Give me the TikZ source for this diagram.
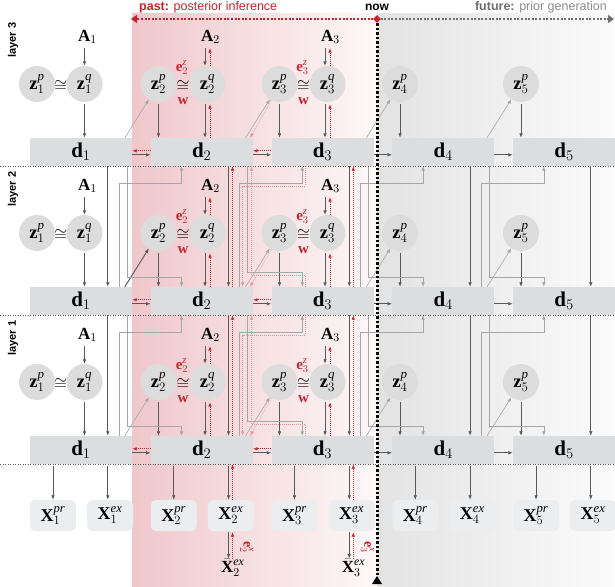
\RequirePackage{fix-cm}
\documentclass[tikz,border=0pt]{standalone}
\usepackage{fontspec}
\setmainfont{Liberation Serif}
\newfontfamily\labfont{Liberation Sans}
\usetikzlibrary{arrows.meta,calc,shapes.geometric}
\definecolor{dgrey}{HTML}{595959}
\definecolor{lgrey}{HTML}{A6A6A6}
\definecolor{boxgrey}{HTML}{DCDDDF}
\definecolor{circgrey}{HTML}{DCDCDC}
\definecolor{xgrey}{HTML}{ECEDEF}
\definecolor{myred}{HTML}{C4262E}
\definecolor{pinkline}{HTML}{E596A0}
\definecolor{pinkL}{HTML}{EFC7CB}
\definecolor{pinkR}{HTML}{FEF8F8}
\definecolor{greyL}{HTML}{E3E3E3}
\definecolor{greyR}{HTML}{FBFBFB}
\definecolor{futgrey}{HTML}{707070}
\tikzset{
 dbox/.style={fill=boxgrey, minimum width=102pt, minimum height=28pt, inner sep=0pt, font=\fontsize{21}{21}\selectfont},
 zc/.style={circle, fill=circgrey, minimum size=36pt, inner sep=0pt, font=\fontsize{18.5}{18.5}\selectfont},
 xbox/.style={fill=xgrey, rounded corners=5pt, minimum width=46pt, minimum height=31pt, inner sep=0pt, font=\fontsize{18}{18}\selectfont},
 alab/.style={inner sep=1pt, font=\fontsize{17}{17}\selectfont},
 cg/.style={inner sep=0pt, font=\fontsize{16.5}{16.5}\selectfont},
 elab/.style={inner sep=0pt, text=myred, font=\fontsize{15}{15}\selectfont},
 laylab/.style={rotate=90, inner sep=0pt, font=\labfont\bfseries\fontsize{11}{11}\selectfont},
 tip/.style={-{Latex[length=4.5pt,width=3.6pt]}},
 darr/.style={tip, draw=dgrey, line width=0.8pt},
 larr/.style={tip, draw=lgrey, line width=0.6pt},
 rarr/.style={tip, draw=myred, line width=0.8pt, dash pattern=on 1pt off 1pt},
 parr/.style={tip, draw=pinkline, line width=0.6pt, dash pattern=on 1pt off 1pt},
 sepline/.style={draw=black!65, line width=0.6pt, dash pattern=on 1pt off 1.5pt},
}
\begin{document}
\begin{tikzpicture}[x=1pt,y=-1pt]
\useasboundingbox (0,0) rectangle (615,586);
\fill[white] (0,0) rectangle (615,586);
\shade[left color=pinkL,right color=pinkR] (132,14) rectangle (377,586);
\shade[left color=greyL,right color=greyR] (377,14) rectangle (615,586);

% ---------- layers ----------
\foreach \Lay/\Off in {3/0,2/149,1/298}{
  \node[laylab] (lay\Lay) at (13,40+\Off) {layer \Lay};
  \foreach \ti/\lx in {1/30,2/150.75,3/271.5,4/392.25,5/513}
    \node[dbox] (d\Lay\ti) at (\lx+51,152+\Off) {$\mathbf{d}_{\ti}$};
  \foreach \ti/\xx in {1/37,2/158.5,3/279.5,4/400,5/521}
    \node[zc] (zp\Lay\ti) at (\xx,84+\Off) {$\mathbf{z}^{\mathit{p}}_{\ti}$};
  \foreach \ti/\xx in {1/84.5,2/207.5,3/327.5}{
    \node[zc] (zq\Lay\ti) at (\xx,84+\Off) {$\mathbf{z}^{\mathit{q}}_{\ti}$};
    \node[alab] (A\Lay\ti) at (\xx+3,37+\Off) {$\mathbf{A}_{\ti}$};
    \node[cg] (cg\Lay\ti) at ($(zp\Lay\ti)!0.5!(zq\Lay\ti)+(0,2)$) {$\cong$};
  }
  \foreach \ti in {2,3}{
    \node[elab] (ez\Lay\ti) at ($(cg\Lay\ti)+(-1,-18)$) {$\mathbf{e}^{\mathit{z}}_{\ti}$};
    \node[elab] (w\Lay\ti) at ($(cg\Lay\ti)+(0,15)$) {$\mathbf{w}$};
  }
  % A -> zq, zq -> d
  \draw[darr, shorten <=3pt] (zq\Lay1 |- A\Lay1.south) -- (zq\Lay1.north);
  \draw[darr, shorten <=2pt] (zq\Lay1.south) -- (zq\Lay1 |- d\Lay1.north);
  \foreach \ti in {2,3}{
    \coordinate (qa\Lay\ti) at ($(zq\Lay\ti)+(-2.5,0)$);
    \coordinate (qb\Lay\ti) at ($(zq\Lay\ti)+(2.5,0)$);
    \draw[darr, shorten <=3pt] (qa\Lay\ti |- A\Lay\ti.south) -- (qa\Lay\ti |- zq\Lay\ti.north);
    \draw[rarr, shorten >=3pt] (qb\Lay\ti |- zq\Lay\ti.north) -- (qb\Lay\ti |- A\Lay\ti.south);
    \draw[darr, shorten <=2pt] (qa\Lay\ti |- zq\Lay\ti.south) -- (qa\Lay\ti |- d\Lay\ti.north);
    \draw[rarr, shorten >=2pt] (qb\Lay\ti |- d\Lay\ti.north) -- (qb\Lay\ti |- zq\Lay\ti.south);
  }
  \foreach \ti in {2,...,5}
    \draw[darr, shorten <=2pt] (zp\Lay\ti.south) -- (zp\Lay\ti |- d\Lay\ti.north);
  % d -> next zp
  \foreach \ti/\tj in {1/2,2/3,3/4,4/5}{
    \coordinate (dg\Lay\ti) at ($(d\Lay\ti.north west)+(95,0)$);
    \draw[larr] (dg\Lay\ti) -- (zp\Lay\tj);
  }
  \draw[parr] (zp\Lay3.243) -- ($(d\Lay2.north west)+(99.5,0)$);
  % d -> d
  \foreach \ti/\tj in {1/2,2/3,3/4,4/5}
    \draw[darr] ($(d\Lay\ti.north east)+(0,17)$) -- ($(d\Lay\tj.north west)+(0,17)$);
  \foreach \ti/\tj in {1/2,2/3}
    \draw[rarr] ($(d\Lay\tj.north west)+(0,13)$) -- ($(d\Lay\ti.north east)+(0,13)$);
}
\draw[darr] (dg21) -- (zp22);

% ---------- between layers ----------
\foreach \Up/\Lo in {3/2,2/1}{
  \foreach \ti in {1,...,5}
    \draw[darr] ($(d\Up\ti.south west)+(78,0)$) -- ($(d\Lo\ti.north west)+(78,0)$);
  \foreach \ti in {2,3}
    \draw[rarr] ($(d\Lo\ti.north west)+(82,0)$) -- ($(d\Up\ti.south west)+(82,0)$);
  \foreach \ti/\tj/\dy in {1/2/10,2/3/15,3/4/10,4/5/10}{
    \draw[larr] ($(d\Lo\ti.north west)+(89,0)$) |- ($(d\Up\tj.south west)+(31,17)$) -- ($(d\Up\tj.south west)+(31,0)$);
    \draw[larr] ($(d\Up\ti.south west)+(97,0)$) |- ($(d\Lo\tj.north west)+(31,-\dy)$) -- ($(d\Lo\tj.north west)+(31,0)$);
  }
  \draw[parr] ($(d\Up3.south west)+(34,0)$) -- ($(d\Up3.south west)+(34,20)$) -| ($(d\Lo2.north west)+(92,0)$);
  \draw[parr] ($(d\Lo3.north west)+(34,0)$) -- ($(d\Lo3.north west)+(34,-12)$) -| ($(d\Up2.south west)+(101,0)$);
}

% ---------- observations ----------
\foreach \ti/\lx in {1/30,2/150.75,3/271.5,4/392.25,5/513}{
  \node[xbox] (xp\ti) at (\lx+23,515.5) {$\mathbf{X}^{\mathit{pr}}_{\ti}$};
  \node[xbox] (xe\ti) at (\lx+80,515.5) {$\mathbf{X}^{\mathit{ex}}_{\ti}$};
  \coordinate (ta\ti) at ($(d1\ti.south west)+(78,0)$);
  \draw[darr, shorten <=2pt] (xp\ti |- d1\ti.south) -- (xp\ti.north);
  \draw[darr, shorten <=2pt] (ta\ti) -- (ta\ti |- xe\ti.north);
}
\foreach \ti in {2,3}{
  \coordinate (tr\ti) at ($(d1\ti.south west)+(82,0)$);
  \draw[rarr] (tr\ti |- xe\ti.north) -- (tr\ti);
  \node[alab, inner sep=0pt] (xb\ti) at ($(xe\ti)+(2,52)$) {$\bar{\mathbf{X}}^{\mathit{ex}}_{\ti}$};
  \draw[darr, shorten <=1pt] (ta\ti |- xe\ti.south) -- (ta\ti |- xb\ti.north);
  \draw[rarr, shorten >=1pt] (tr\ti |- xb\ti.north) -- (tr\ti |- xe\ti.south);
  \node[elab, rotate=-90, font=\fontsize{14}{14}\selectfont] (ex\ti) at ($(xe\ti)+(16,32)$) {$\mathbf{e}^{\mathit{x}}_{\ti}$};
}

% ---------- separators ----------
\foreach \yy in {166,315,464}
  \draw[sepline] (0,\yy) -- (615,\yy);

% ---------- time axis ----------
\coordinate (nowtop) at (377,19);
\coordinate (pastend) at (131,19);
\coordinate (futend) at (614,19);
\coordinate (nowbot) at (377,577);
\draw[myred, line width=2.2pt, dash pattern=on 2pt off 1.6pt, -{Triangle[length=6pt,width=8pt]}] (nowtop) -- (pastend);
\draw[futgrey, line width=2.2pt, dash pattern=on 2pt off 1.6pt, -{Triangle[length=6pt,width=8pt]}] (nowtop) -- (futend);
\draw[black, line width=3pt, dash pattern=on 2.5pt off 2pt] (nowtop) -- (nowbot);
\fill[black] (372,584) -- (377,576) -- (382,584) -- cycle;
\node[diamond, fill=myred, inner sep=0pt, minimum size=8pt] (nowdia) at (nowtop) {};

\node[anchor=west, inner sep=0pt, text=myred, font=\labfont\fontsize{12.5}{12.5}\selectfont] (past) at (139,7) {\textbf{past:} posterior inference};
\node[inner sep=0pt, font=\labfont\bfseries\fontsize{12}{12}\selectfont] (now) at (377,7) {now};
\node[anchor=east, inner sep=0pt, text=futgrey!80, font=\labfont\fontsize{12.5}{12.5}\selectfont] (fut) at (607,7) {\textcolor{futgrey}{\textbf{future:}} prior generation};
\end{tikzpicture}
\end{document}
